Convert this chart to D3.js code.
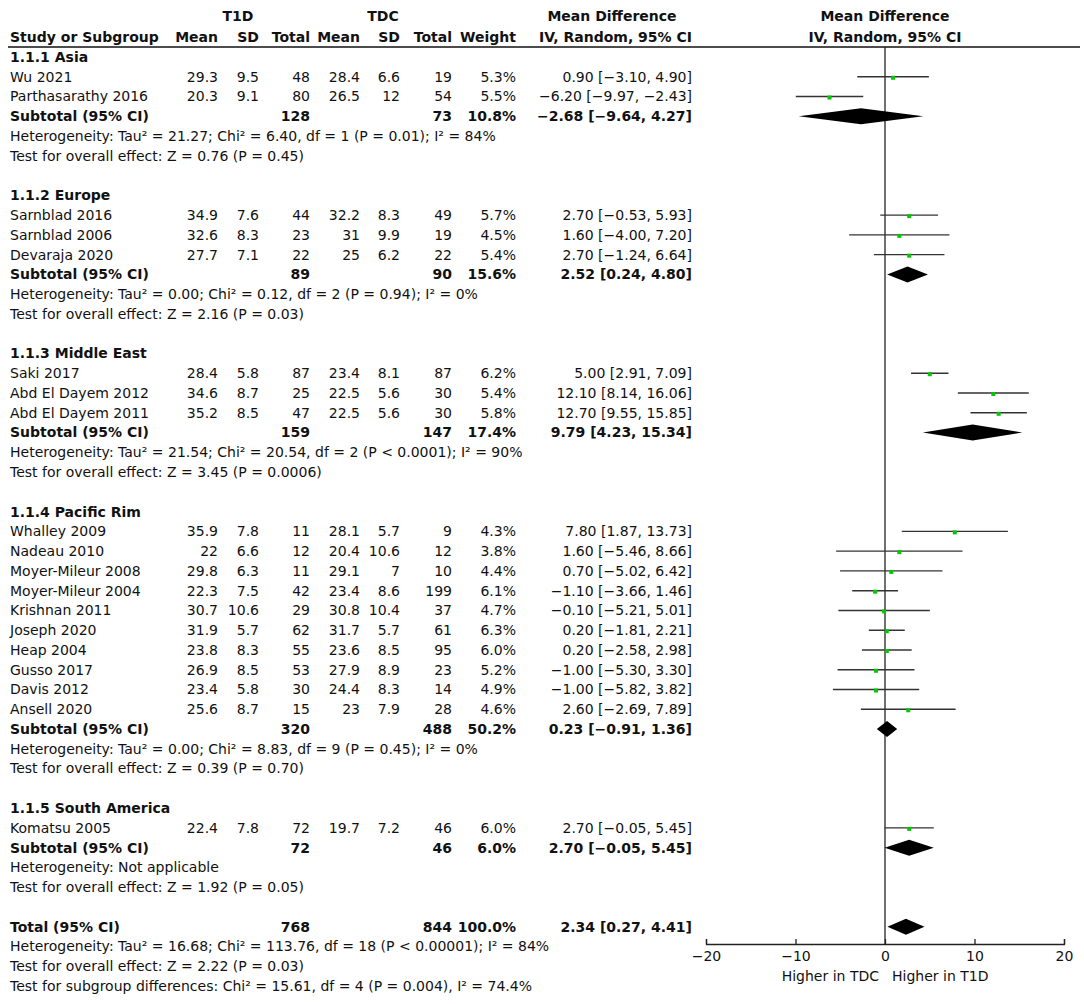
<!DOCTYPE html>
<html>
<head>
<meta charset="utf-8">
<script src="https://cdn.jsdelivr.net/npm/d3@7"></script>
<style>
  body { margin: 0; background: #fff; }
  svg text { font-family: "DejaVu Sans", sans-serif; font-size: 14px; fill: #111; }
</style>
</head>
<body>
<svg width="1084" height="1004"></svg>
<script>
// study level data
const studyNames = ['Wu 2021', 'Parthasarathy 2016',
  'Sarnblad 2016', 'Sarnblad 2006', 'Devaraja 2020',
  'Saki 2017', 'Abd El Dayem 2012', 'Abd El Dayem 2011',
  'Whalley 2009', 'Nadeau 2010', 'Moyer-Mileur 2008', 'Moyer-Mileur 2004', 'Krishnan 2011',
  'Joseph 2020', 'Heap 2004', 'Gusso 2017', 'Davis 2012', 'Ansell 2020',
  'Komatsu 2005'];
const studyGroup = [0, 0, 1, 1, 1, 2, 2, 2, 3, 3, 3, 3, 3, 3, 3, 3, 3, 3, 4];
const t1dMean = [29.3, 20.3, 34.9, 32.6, 27.7, 28.4, 34.6, 35.2, 35.9, 22, 29.8, 22.3, 30.7, 31.9, 23.8, 26.9, 23.4, 25.6, 22.4];
const t1dSD = [9.5, 9.1, 7.6, 8.3, 7.1, 5.8, 8.7, 8.5, 7.8, 6.6, 6.3, 7.5, 10.6, 5.7, 8.3, 8.5, 5.8, 8.7, 7.8];
const t1dN = [48, 80, 44, 23, 22, 87, 25, 47, 11, 12, 11, 42, 29, 62, 55, 53, 30, 15, 72];
const tdcMean = [28.4, 26.5, 32.2, 31, 25, 23.4, 22.5, 22.5, 28.1, 20.4, 29.1, 23.4, 30.8, 31.7, 23.6, 27.9, 24.4, 23, 19.7];
const tdcSD = [6.6, 12, 8.3, 9.9, 6.2, 8.1, 5.6, 5.6, 5.7, 10.6, 7, 8.6, 10.4, 5.7, 8.5, 8.9, 8.3, 7.9, 7.2];
const tdcN = [19, 54, 49, 19, 22, 87, 30, 30, 9, 12, 10, 199, 37, 61, 95, 23, 14, 28, 46];
const weight = [5.3, 5.5, 5.7, 4.5, 5.4, 6.2, 5.4, 5.8, 4.3, 3.8, 4.4, 6.1, 4.7, 6.3, 6.0, 5.2, 4.9, 4.6, 6.0];
const md = [0.90, -6.20, 2.70, 1.60, 2.70, 5.00, 12.10, 12.70, 7.80, 1.60, 0.70, -1.10, -0.10, 0.20, 0.20, -1.00, -1.00, 2.60, 2.70];
const mdLo = [-3.10, -9.97, -0.53, -4.00, -1.24, 2.91, 8.14, 9.55, 1.87, -5.46, -5.02, -3.66, -5.21, -1.81, -2.58, -5.30, -5.82, -2.69, -0.05];
const mdHi = [4.90, -2.43, 5.93, 7.20, 6.64, 7.09, 16.06, 15.85, 13.73, 8.66, 6.42, 1.46, 5.01, 2.21, 2.98, 3.30, 3.82, 7.89, 5.45];

// subgroups
const groupNames = ['1.1.1 Asia', '1.1.2 Europe', '1.1.3 Middle East', '1.1.4 Pacific Rim', '1.1.5 South America'];
const groupN1 = [128, 89, 159, 320, 72];
const groupN2 = [73, 90, 147, 488, 46];
const groupWeight = [10.8, 15.6, 17.4, 50.2, 6.0];
const groupMd = [-2.68, 2.52, 9.79, 0.23, 2.70];
const groupLo = [-9.64, 0.24, 4.23, -0.91, -0.05];
const groupHi = [4.27, 4.80, 15.34, 1.36, 5.45];
const groupHet = [
  'Heterogeneity: Tau² = 21.27; Chi² = 6.40, df = 1 (P = 0.01); I² = 84%',
  'Heterogeneity: Tau² = 0.00; Chi² = 0.12, df = 2 (P = 0.94); I² = 0%',
  'Heterogeneity: Tau² = 21.54; Chi² = 20.54, df = 2 (P < 0.0001); I² = 90%',
  'Heterogeneity: Tau² = 0.00; Chi² = 8.83, df = 9 (P = 0.45); I² = 0%',
  'Heterogeneity: Not applicable'];
const groupTest = [
  'Test for overall effect: Z = 0.76 (P = 0.45)',
  'Test for overall effect: Z = 2.16 (P = 0.03)',
  'Test for overall effect: Z = 3.45 (P = 0.0006)',
  'Test for overall effect: Z = 0.39 (P = 0.70)',
  'Test for overall effect: Z = 1.92 (P = 0.05)'];

// overall
const totalN1 = 768, totalN2 = 844, totalWeight = 100.0;
const totalMd = 2.34, totalLo = 0.27, totalHi = 4.41;
const totalNotes = [
  'Heterogeneity: Tau² = 16.68; Chi² = 113.76, df = 18 (P < 0.00001); I² = 84%',
  'Test for overall effect: Z = 2.22 (P = 0.03)',
  'Test for subgroup differences: Chi² = 15.61, df = 4 (P = 0.004), I² = 74.4%'];

const axisTicks = [-20, -10, 0, 10, 20];

const svg = d3.select('svg');
const fmt2 = d3.format('.2f');
const fmtW = v => d3.format('.1f')(v) + '%';
const ciText = (m, l, h) => `${fmt2(m)} [${fmt2(l)}, ${fmt2(h)}]`;

// build the row list
const rows = [];
groupNames.forEach((g, gi) => {
  rows.push({type: 'group', label: g});
  studyNames.forEach((s, i) => {
    if (studyGroup[i] === gi) rows.push({type: 'study', i});
  });
  rows.push({type: 'subtotal', gi});
  rows.push({type: 'note', label: groupHet[gi]});
  rows.push({type: 'note', label: groupTest[gi]});
  rows.push({type: 'blank'});
});
rows.push({type: 'total'});
totalNotes.forEach(t => rows.push({type: 'note', label: t}));

const y = d3.scaleLinear().domain([0, rows.length - 1]).range([57, 986]);
const x = d3.scaleLinear().domain([-20, 20]).range([706, 1064]);

// column right edges
const col = {m1: 218, sd1: 259, n1: 310, m2: 360, sd2: 400, n2: 452, w: 516, ci: 692};
const textX = 10;

// headers
const head = svg.append('g').style('font-weight', 'bold').style('font-size', '13.4px');
head.append('text').attr('x', 238).attr('y', 16).attr('dy', '0.35em').attr('text-anchor', 'middle').text('T1D');
head.append('text').attr('x', 383).attr('y', 16).attr('dy', '0.35em').attr('text-anchor', 'middle').text('TDC');
head.append('text').attr('x', 612).attr('y', 16).attr('dy', '0.35em').attr('text-anchor', 'middle').text('Mean Difference');
head.append('text').attr('x', 885).attr('y', 16).attr('dy', '0.35em').attr('text-anchor', 'middle').text('Mean Difference');
head.append('text').attr('x', textX).attr('y', 37).attr('dy', '0.35em').text('Study or Subgroup');
[['m1', 'Mean'], ['sd1', 'SD'], ['n1', 'Total'], ['m2', 'Mean'], ['sd2', 'SD'], ['n2', 'Total'], ['w', 'Weight'], ['ci', 'IV, Random, 95% CI']]
  .forEach(([k, t]) => head.append('text').attr('x', col[k]).attr('y', 37).attr('dy', '0.35em').attr('text-anchor', 'end').text(t));
head.append('text').attr('x', 885).attr('y', 37).attr('dy', '0.35em').attr('text-anchor', 'middle').text('IV, Random, 95% CI');

svg.append('line')
  .attr('x1', 8).attr('x2', 1080).attr('y1', 47).attr('y2', 47)
  .attr('stroke', '#111').attr('stroke-width', 1.5);

// zero line
svg.append('line')
  .attr('x1', x(0)).attr('x2', x(0)).attr('y1', 47).attr('y2', 944)
  .attr('stroke', '#222').attr('stroke-width', 1.3);

const body = svg.append('g');

function cell(g, key, yy, t, bold) {
  g.append('text')
    .attr('x', col[key]).attr('y', yy).attr('dy', '0.35em')
    .attr('text-anchor', 'end')
    .style('font-weight', bold ? 'bold' : null)
    .text(t);
}

function diamond(yy, m, l, h) {
  const hh = 8;
  body.append('path')
    .attr('d', `M${x(l)},${yy} L${x(m)},${yy - hh} L${x(h)},${yy} L${x(m)},${yy + hh} Z`)
    .attr('fill', '#000');
}

rows.forEach((r, k) => {
  const yy = y(k);
  if (r.type === 'group') {
    body.append('text').attr('x', textX).attr('y', yy).attr('dy', '0.35em')
      .style('font-weight', 'bold').text(r.label);
  } else if (r.type === 'note') {
    body.append('text').attr('x', textX).attr('y', yy).attr('dy', '0.35em').text(r.label);
  } else if (r.type === 'study') {
    const i = r.i;
    body.append('text').attr('x', textX).attr('y', yy).attr('dy', '0.35em').text(studyNames[i]);
    cell(body, 'm1', yy, t1dMean[i]);
    cell(body, 'sd1', yy, t1dSD[i]);
    cell(body, 'n1', yy, t1dN[i]);
    cell(body, 'm2', yy, tdcMean[i]);
    cell(body, 'sd2', yy, tdcSD[i]);
    cell(body, 'n2', yy, tdcN[i]);
    cell(body, 'w', yy, fmtW(weight[i]));
    cell(body, 'ci', yy, ciText(md[i], mdLo[i], mdHi[i]));
    body.append('line')
      .attr('x1', x(mdLo[i])).attr('x2', x(mdHi[i]))
      .attr('y1', yy).attr('y2', yy)
      .attr('stroke', '#333').attr('stroke-width', 1.4);
    body.append('rect')
      .attr('x', x(md[i]) - 2).attr('y', yy - 1).attr('width', 4).attr('height', 4)
      .attr('fill', '#00c800');
  } else if (r.type === 'subtotal') {
    const gi = r.gi;
    body.append('text').attr('x', textX).attr('y', yy).attr('dy', '0.35em')
      .style('font-weight', 'bold').text('Subtotal (95% CI)');
    cell(body, 'n1', yy, groupN1[gi], true);
    cell(body, 'n2', yy, groupN2[gi], true);
    cell(body, 'w', yy, fmtW(groupWeight[gi]), true);
    cell(body, 'ci', yy, ciText(groupMd[gi], groupLo[gi], groupHi[gi]), true);
    diamond(yy, groupMd[gi], groupLo[gi], groupHi[gi]);
  } else if (r.type === 'total') {
    body.append('text').attr('x', textX).attr('y', yy).attr('dy', '0.35em')
      .style('font-weight', 'bold').text('Total (95% CI)');
    cell(body, 'n1', yy, totalN1, true);
    cell(body, 'n2', yy, totalN2, true);
    cell(body, 'w', yy, fmtW(totalWeight), true);
    cell(body, 'ci', yy, ciText(totalMd, totalLo, totalHi), true);
    diamond(yy, totalMd, totalLo, totalHi);
  }
});

// axis
const axis = svg.append('g')
  .attr('transform', 'translate(0,944)')
  .call(d3.axisBottom(x).tickValues(axisTicks).tickSize(-5).tickSizeOuter(-5).tickPadding(7));
axis.select('.domain').attr('stroke', '#222').attr('stroke-width', 1.3);
axis.selectAll('.tick line').attr('stroke', '#222').attr('stroke-width', 1.3);
axis.selectAll('.tick text').style('font-family', '"DejaVu Sans", sans-serif').style('font-size', '14px').attr('fill', '#111');

svg.append('text').attr('x', 879).attr('y', 976).attr('dy', '0.35em').attr('text-anchor', 'end').text('Higher in TDC');
svg.append('text').attr('x', 892).attr('y', 976).attr('dy', '0.35em').text('Higher in T1D');
</script>
</body>
</html>
